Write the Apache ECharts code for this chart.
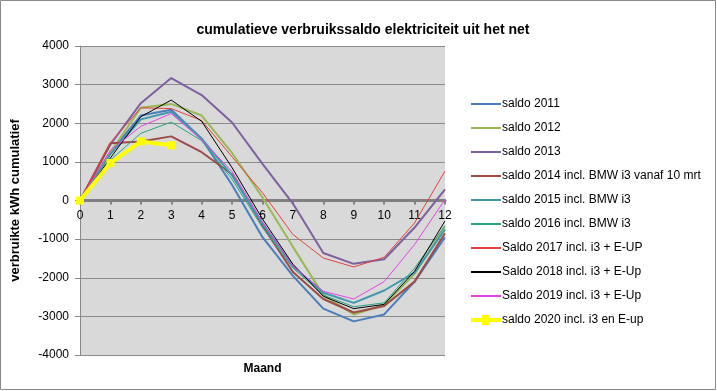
<!DOCTYPE html>
<html><head><meta charset="utf-8">
<script src="https://cdn.jsdelivr.net/npm/echarts@6/dist/echarts.min.js"></script>
<style>html,body{margin:0;padding:0;background:#fff}#c{width:717px;height:391px}</style>
</head><body><div id="c"></div>
<script>
var months = ['0','1','2','3','4','5','6','7','8','9','10','11','12'];
var names = ['saldo 2011','saldo 2012','saldo 2013','saldo 2014 incl. BMW i3 vanaf 10 mrt','saldo 2015 incl. BMW i3','saldo 2016 incl. BMW i3','Saldo 2017 incl. i3 + E-UP','Saldo 2018 incl. i3 + E-Up','Saldo 2019 incl. i3 + E-Up','saldo 2020 incl. i3 en E-up'];
var s2011 = [0, 1250, 2200, 2350, 1600, 400, -950, -1950, -2800, -3130, -2950, -2100, -950];
var s2012 = [0, 1250, 2400, 2500, 2200, 1230, 80, -1200, -2450, -2950, -2700, -1900, -680];
var s2013 = [0, 1450, 2520, 3170, 2730, 2020, 950, -80, -1360, -1640, -1520, -700, 290];
var s2014 = [0, 1480, 1530, 1660, 1250, 680, -650, -1850, -2550, -2900, -2730, -2100, -850];
var s2015 = [0, 1200, 2100, 2300, 1600, 650, -600, -1700, -2390, -2650, -2330, -1870, -750];
var s2016 = [0, 1050, 1740, 2030, 1550, 550, -700, -1750, -2450, -2750, -2650, -1750, -650];
var s2017 = [0, 1500, 2400, 2380, 2070, 1130, 200, -880, -1490, -1720, -1470, -580, 760];
var s2018 = [0, 1100, 2170, 2600, 2050, 850, -480, -1650, -2480, -2800, -2690, -1830, -530];
var s2019 = [0, 1300, 1920, 2250, 1570, 750, -550, -1700, -2350, -2550, -2100, -1140, 25];
var s2020 = [0, 970, 1530, 1430];
var yMin = -4000, yMax = 4000, yStep = 1000;

var dataSets = [s2011, s2012, s2013, s2014, s2015, s2016, s2017, s2018, s2019, s2020];
var colors = ['#4A7EBB', '#98B954', '#7D60A0', '#9C4B48', '#4198AF', '#2CA383', '#E3423F', '#000000', '#E543E5', '#FFFF00'];
var widths = [2, 2, 2, 2, 2, 1, 1, 1, 1, 4];
var fontF = 'Liberation Sans, Arial, sans-serif';

var series = dataSets.map(function (d, i) {
  var last = i === 9;
  return {
    name: names[i], type: 'line', data: d, xAxisIndex: 0,
    symbol: last ? 'rect' : 'none', symbolSize: 8, showSymbol: last,
    itemStyle: { color: colors[i] },
    lineStyle: { color: colors[i], width: widths[i] },
    emphasis: { disabled: true }, animation: false, z: last ? 5 : 2
  };
});

var markerLineIcon = 'path://M0,3 L11,3 L11,0 L19,0 L19,3 L30,3 L30,7 L19,7 L19,10 L11,10 L11,7 L0,7 Z';
var legendData = names.map(function (n, i) {
  return i === 9 ? { name: n, icon: markerLineIcon, itemStyle: { opacity: 1 } } : { name: n };
});

var gridTop = 46, gridBottom = 36, H = 391;
var plotH = H - gridTop - gridBottom;
var zeroOffset = plotH * (0 - yMin) / (yMax - yMin);

var chart = echarts.init(document.getElementById('c'));
chart.setOption({
  animation: false,
  title: {
    text: 'cumulatieve verbruikssaldo elektriciteit uit het net',
    left: 358, top: 18, textAlign: 'center',
    textStyle: { fontFamily: fontF, fontSize: 14, fontWeight: 'bold', color: '#000' }
  },
  graphic: [{ type: 'rect', shape: { x: 0.5, y: 0.5, width: 715, height: 389 }, style: { fill: 'none', stroke: '#888', lineWidth: 1 }, silent: true }],
  legend: {
    orient: 'vertical', left: 465, top: 93, itemWidth: 30, itemHeight: 10, itemGap: 12,
    itemStyle: { opacity: 0 },
    textStyle: { fontFamily: fontF, fontSize: 12, color: '#000', padding: [0, 0, 0, -4] },
    data: legendData
  },
  grid: { left: 80, right: 272, top: gridTop, bottom: gridBottom, show: true, backgroundColor: '#D9D9D9', borderWidth: 0 },
  xAxis: [{
    type: 'category', data: months, boundaryGap: false,
    position: 'bottom', offset: -zeroOffset,
    axisLine: { onZero: false, lineStyle: { color: '#808080', width: 3 } },
    axisTick: { show: true, inside: false, length: 4, lineStyle: { color: '#808080', width: 2 }, alignWithLabel: true },
    axisLabel: { fontFamily: fontF, fontSize: 12, color: '#000', margin: 9 },
    splitLine: { show: false }
  }, {
    type: 'category', data: months, boundaryGap: false, position: 'bottom',
    name: 'Maand', nameLocation: 'middle', nameGap: 8,
    nameTextStyle: { fontFamily: fontF, fontSize: 12, fontWeight: 'bold', color: '#000' },
    axisLine: { show: false }, axisTick: { show: false }, axisLabel: { show: false }, splitLine: { show: false }
  }],
  yAxis: {
    type: 'value', min: yMin, max: yMax, interval: yStep,
    name: 'verbruikte kWh cumulatief', nameLocation: 'middle', nameGap: 58, nameRotate: 90,
    nameTextStyle: { fontFamily: fontF, fontSize: 13, fontWeight: 'bold', color: '#000' },
    axisLine: { show: true, onZero: false, lineStyle: { color: '#888', width: 1 } },
    axisTick: { show: true, length: 5, lineStyle: { color: '#888' } },
    axisLabel: { fontFamily: fontF, fontSize: 12, color: '#000', margin: 11, formatter: function (v) { return String(v); } },
    splitLine: { show: true, lineStyle: { color: '#8C8C8C', width: 1 } }
  },
  series: series
});
</script>
</body></html>
